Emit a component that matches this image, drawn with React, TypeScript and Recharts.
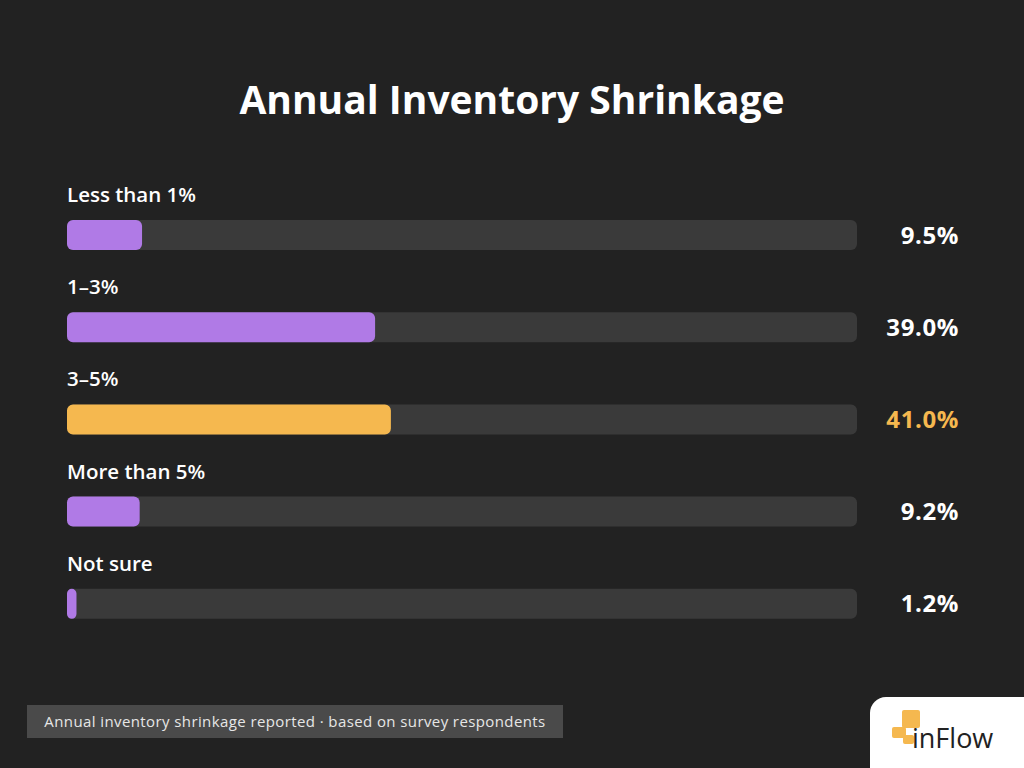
import React from "react";
import { BarChart, Bar, XAxis, YAxis, Cell, LabelList } from "recharts";

// survey buckets and share of respondents (%)
const categories = ["Less than 1%", "1–3%", "3–5%", "More than 5%", "Not sure"];
const shares = [9.5, 39.0, 41.0, 9.2, 1.2];

const BG = "#222222";
const TRACK = "#3a3a3a";
const PURPLE = "#b07ae6";
const ORANGE = "#f5b84f";
const FONT = "'Open Sans', 'DejaVu Sans', sans-serif";

const CHART_W = 1024;
const CHART_H = 768;
const MARGIN = { top: 189, right: 167, left: 67, bottom: 118 };
const TRACK_RIGHT = CHART_W - MARGIN.right;

const data = categories.map((name, i) => ({ name, value: shares[i] }));
const topIndex = shares.indexOf(Math.max(...shares));

const CategoryLabel = (props: any) => {
  const { x, y, value } = props;
  return (
    <text x={x} y={y - 18} fill="#ffffff" fontSize={20.5} fontWeight={600} fontFamily={FONT}>
      {value}
    </text>
  );
};

const ValueLabel = (props: any) => {
  const { y, height, value, index } = props;
  return (
    <text
      x={TRACK_RIGHT + 102}
      y={y + height / 2}
      dy={8.5}
      textAnchor="end"
      fill={index === topIndex ? ORANGE : "#ffffff"}
      fontSize={24}
      fontWeight={700}
      fontFamily={FONT}
      letterSpacing={0.6}
    >
      {`${Number(value).toFixed(1)}%`}
    </text>
  );
};

const Logo = () => (
  <div
    style={{
      position: "absolute",
      left: 870,
      top: 697,
      width: 154,
      height: 71,
      background: "#ffffff",
      borderTopLeftRadius: 16,
    }}
  >
    <svg width={154} height={71} style={{ position: "absolute", left: 0, top: 0 }}>
      <rect x={32} y={13} width={18} height={18} rx={2} fill={ORANGE} />
      <rect x={22} y={30} width={14} height={11} rx={2} fill={ORANGE} />
      <rect x={33} y={38} width={11} height={9} rx={2} fill={ORANGE} />
      <text x={42} y={51} fill="#222222" fontSize={27} fontFamily={FONT} fontWeight={400}>
        inFlow
      </text>
    </svg>
  </div>
);

export default function App() {
  return (
    <div
      style={{
        position: "absolute",
        left: 0,
        top: 0,
        width: CHART_W,
        height: CHART_H,
        background: BG,
        overflow: "hidden",
        fontFamily: FONT,
      }}
    >
      <div
        style={{
          position: "absolute",
          top: 72,
          width: "100%",
          textAlign: "center",
          color: "#ffffff",
          fontSize: 39,
          fontWeight: 700,
          letterSpacing: 0,
        }}
      >
        Annual Inventory Shrinkage
      </div>

      <div style={{ position: "absolute", left: 0, top: 0 }}>
        <BarChart width={CHART_W} height={CHART_H} data={data} layout="vertical" margin={MARGIN}>
          <XAxis type="number" domain={[0, 100]} hide />
          <YAxis type="category" dataKey="name" hide />
          <Bar
            dataKey="value"
            barSize={30}
            radius={6}
            background={{ fill: TRACK, radius: 6 }}
            isAnimationActive={false}
          >
            {data.map((d, i) => (
              <Cell key={d.name} fill={i === topIndex ? ORANGE : PURPLE} />
            ))}
            <LabelList dataKey="name" content={CategoryLabel} />
            <LabelList dataKey="value" content={ValueLabel} />
          </Bar>
        </BarChart>
      </div>

      <div
        style={{
          position: "absolute",
          left: 27,
          top: 705,
          width: 536,
          height: 33,
          background: "#4a4a4a",
          color: "#e6e6e6",
          fontSize: 15,
          letterSpacing: 0.4,
          lineHeight: "33px",
          textAlign: "center",
        }}
      >
        Annual inventory shrinkage reported · based on survey respondents
      </div>

      <Logo />
    </div>
  );
}
